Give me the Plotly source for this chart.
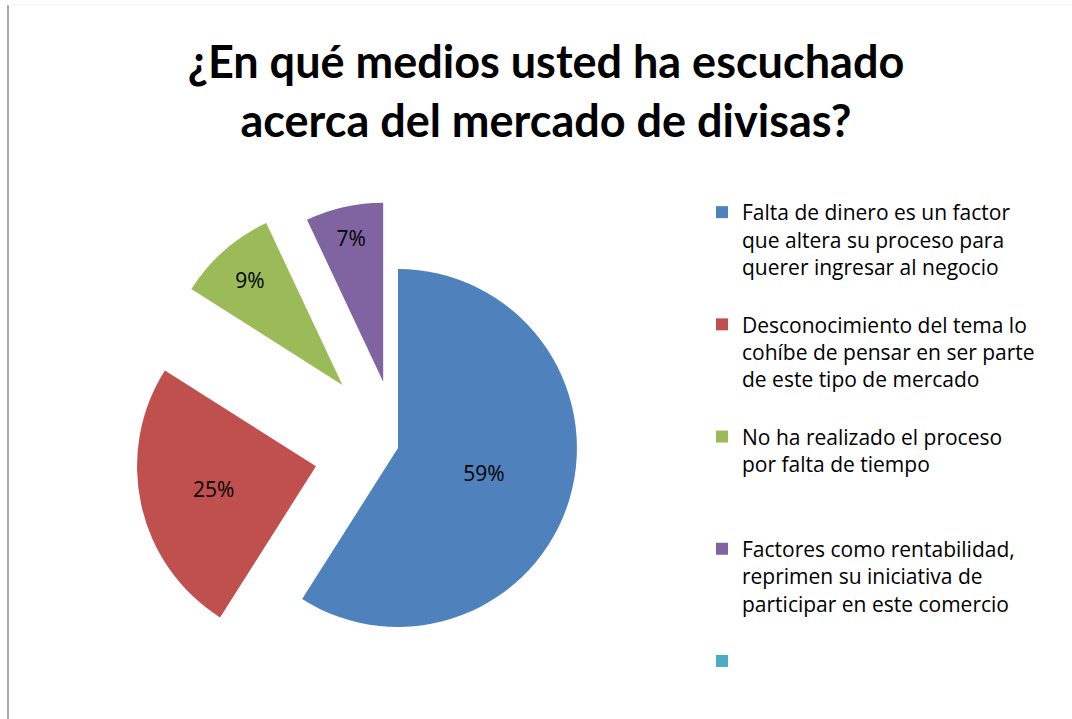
import plotly.graph_objects as go

title_text = "¿En qué medios usted ha escuchado<br>acerca del mercado de divisas?"
labels = [
    "Falta de dinero es un factor<br>que altera su proceso para<br>querer ingresar al negocio<br> ",
    "Desconocimiento del tema lo<br>cohíbe de pensar en ser parte<br>de este tipo de mercado<br> ",
    "No ha realizado el proceso<br>por falta de tiempo<br> <br> ",
    "Factores como rentabilidad,<br>reprimen su iniciativa de<br>participar en este comercio<br> ",
    " ",
]
values = [59, 25, 9, 7, 0]
colors = ["#4F81BD", "#C0504D", "#9BBB59", "#8064A2", "#4BACC6"]
pulls = [0, 0.47, 0.47, 0.38, 0]
templates = ["%{percent:.0%}"] * 4 + [""]

W, H = 1072, 719
cx, cy, half = 398, 448, 263

fig = go.Figure(go.Pie(
    labels=labels,
    values=values,
    marker=dict(colors=colors, line=dict(width=0)),
    pull=pulls,
    sort=False,
    direction="clockwise",
    rotation=0,
    texttemplate=templates,
    textposition="inside",
    insidetextorientation="horizontal",
    textfont=dict(family="Open Sans", size=21, color="black"),
    domain=dict(x=[(cx - half) / W, (cx + half) / W],
                y=[1 - (cy + half) / H, 1 - (cy - half) / H]),
    hoverinfo="label+percent",
))

fig.update_layout(
    width=W, height=H,
    margin=dict(l=0, r=0, t=0, b=0),
    paper_bgcolor="white",
    plot_bgcolor="white",
    title=dict(text=title_text, x=546 / W, xanchor="center", y=1 - 78 / H, yanchor="middle",
               font=dict(family="Lato", size=45, color="black", weight="bold")),
    uniformtext=dict(minsize=21, mode="show"),
    legend=dict(
        x=702 / W, xanchor="left", y=1 - 192 / H, yanchor="top",
        valign="top",
        font=dict(family="Open Sans", size=21, color="black"),
        itemclick=False,
    ),
    shapes=[
        dict(type="line", xref="paper", yref="paper", x0=8 / W, x1=8 / W, y0=0, y1=1 - 5 / H,
             line=dict(color="#8a8a8a", width=1.5)),
        dict(type="line", xref="paper", yref="paper", x0=8 / W, x1=1, y0=1 - 5 / H, y1=1 - 5 / H,
             line=dict(color="#f0f0f0", width=1)),
    ],
)

fig.write_html("out.html", config={"displayModeBar": False},
               post_script="document.body.style.margin='0';")
